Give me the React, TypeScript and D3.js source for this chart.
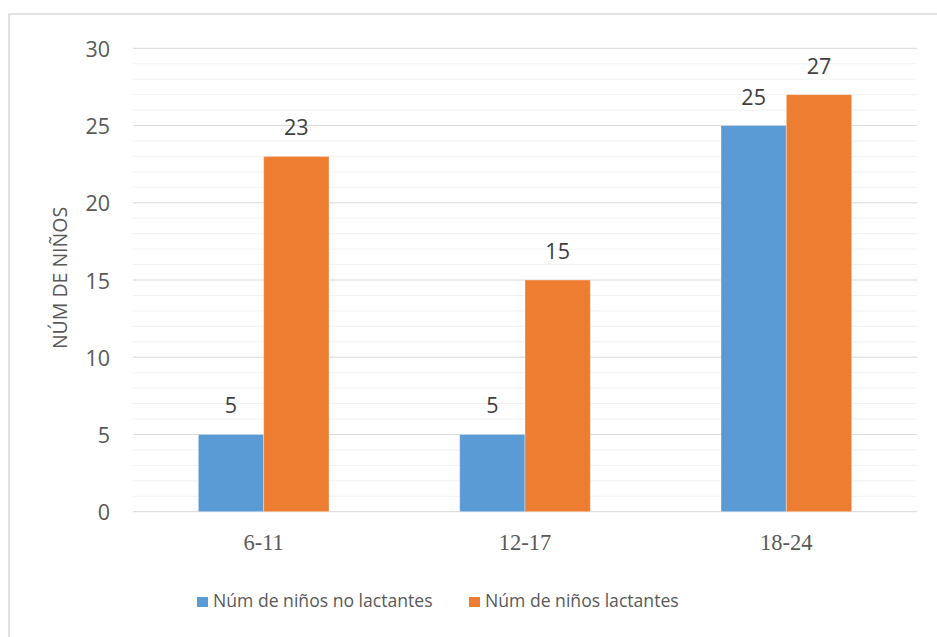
import React from "react";
import * as d3 from "d3";

const categories = ["6-11", "12-17", "18-24"];
const seriesNames = ["Núm de niños no lactantes", "Núm de niños lactantes"];
const noLactantes = [5, 5, 25];
const lactantes = [23, 15, 27];
const yTicks = [0, 5, 10, 15, 20, 25, 30];
const colors = ["#5B9BD5", "#ED7D31"];

const W = 937;
const H = 637;
const plot = { left: 133, right: 917, top: 48.3, bottom: 511.7 };

export default function App() {
  const x = d3
    .scaleBand<string>()
    .domain(categories)
    .range([plot.left, plot.right])
    .paddingInner(0)
    .paddingOuter(0);
  const y = d3.scaleLinear().domain([0, 30]).range([plot.bottom, plot.top]);
  const band = x.bandwidth();
  const barW = band / 4;
  const series = [noLactantes, lactantes];
  const minor = d3.range(0, 31, 1).filter((v) => v % 5 !== 0);
  const font = "'Open Sans', 'Noto Sans', sans-serif";

  return (
    <svg
      width={W}
      height={H}
      style={{ position: "absolute", left: 0, top: 0, background: "#fff" }}
    >
      <rect x={9} y={14} width={W + 20} height={H + 20} fill="#fff" stroke="#D9D9D9" strokeWidth={1.5} />
      {minor.map((v) => (
        <line key={"m" + v} x1={plot.left} x2={plot.right} y1={y(v)} y2={y(v)} stroke="#F2F2F2" strokeWidth={1} />
      ))}
      {yTicks.map((v) => (
        <line key={"g" + v} x1={plot.left} x2={plot.right} y1={y(v)} y2={y(v)} stroke="#D9D9D9" strokeWidth={1} />
      ))}
      {yTicks.map((v) => (
        <text key={"t" + v} x={110} y={y(v) + 8.5} textAnchor="end" fontFamily={font} fontSize={21.5} fill="#595959">
          {v}
        </text>
      ))}
      {categories.map((c, i) => {
        const cx = (x(c) as number) + band / 2;
        return (
          <g key={c}>
            {series.map((s, k) => {
              const bx = cx - barW + k * barW;
              return (
                <g key={k}>
                  <rect x={bx} y={y(s[i])} width={barW} height={y(0) - y(s[i])} fill={colors[k]} stroke="#fff" strokeOpacity={0.35} strokeWidth={1} />
                  <text x={bx + barW / 2} y={y(s[i]) - 21} textAnchor="middle" fontFamily={font} fontSize={21.5} fill="#404040">
                    {s[i]}
                  </text>
                </g>
              );
            })}
            <text x={cx} y={550} textAnchor="middle" fontFamily="'Liberation Serif', 'Times New Roman', serif" fontSize={22.5} fill="#595959">
              {c}
            </text>
          </g>
        );
      })}
      <text
        transform={`translate(${67},${278}) rotate(-90)`}
        textAnchor="middle"
        fontFamily={font}
        fontSize={19.5}
        fill="#595959"
      >
        NÚM DE NIÑOS
      </text>
      {seriesNames.map((n, k) => {
        const lx = k === 0 ? 197 : 469;
        return (
          <g key={n}>
            <rect x={lx} y={597} width={11} height={10} fill={colors[k]} />
            <text x={lx + 16} y={607} fontFamily={font} fontSize={17.6} fill="#595959">
              {n}
            </text>
          </g>
        );
      })}
    </svg>
  );
}
